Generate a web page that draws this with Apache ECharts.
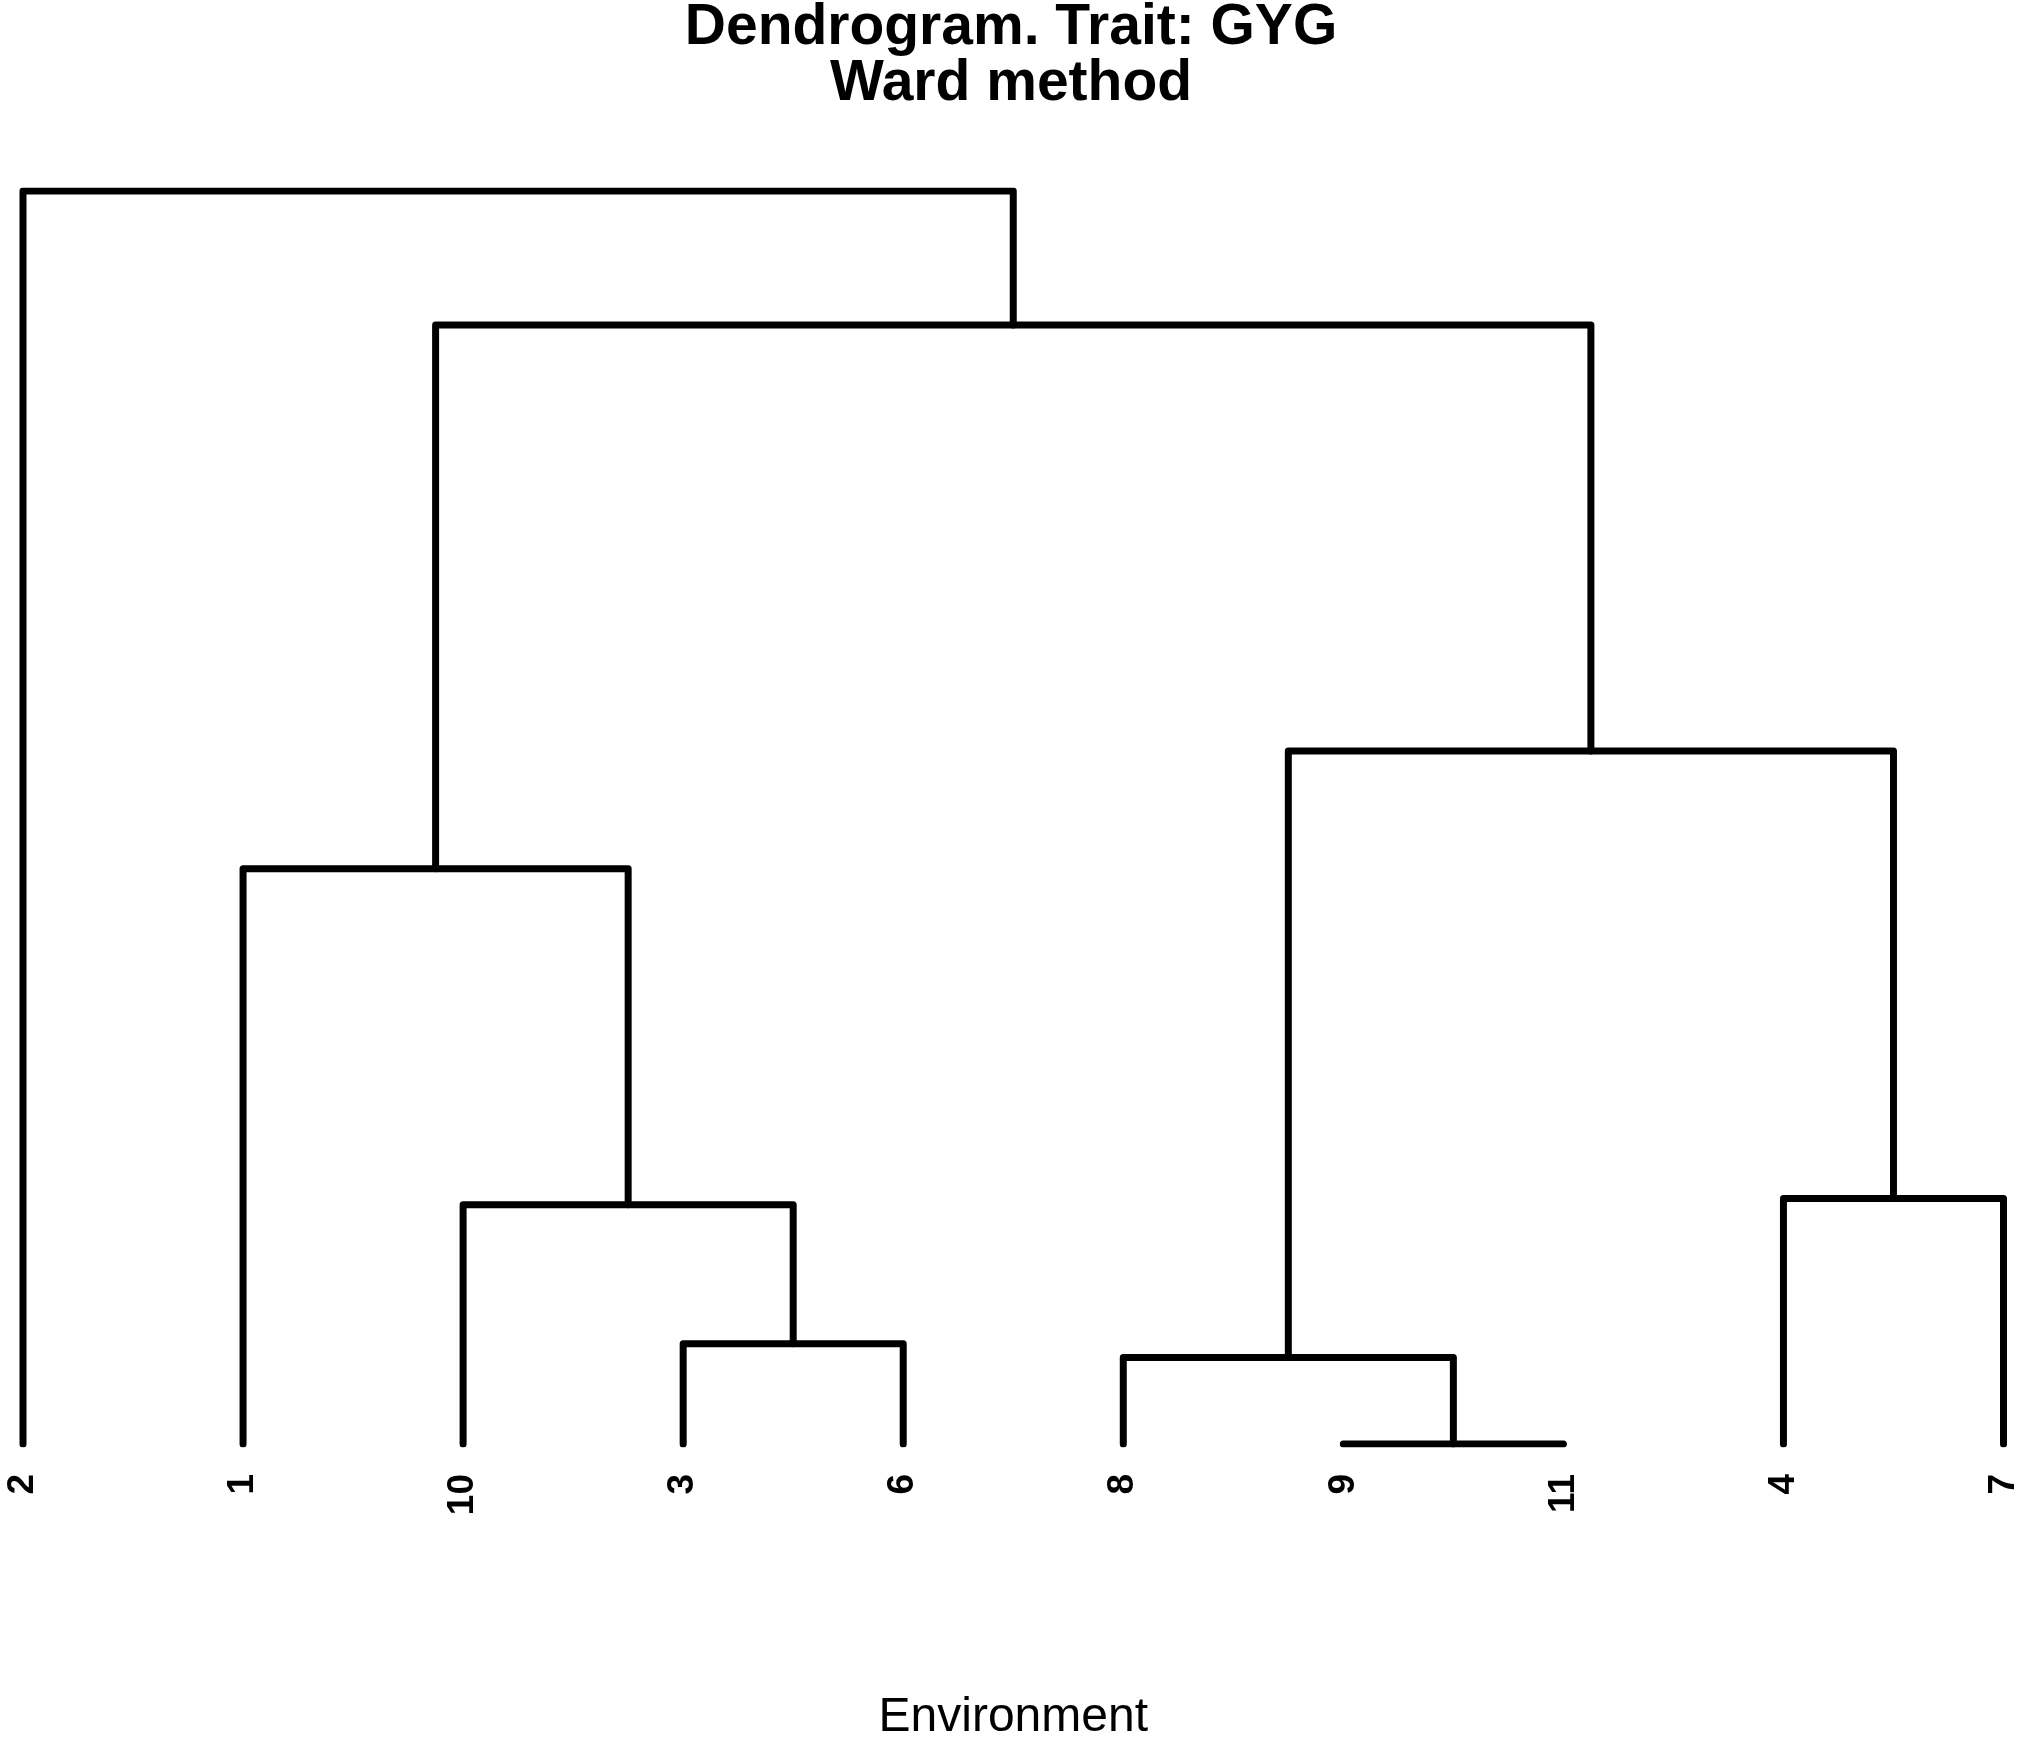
<!DOCTYPE html>
<html>
<head>
<meta charset="utf-8">
<script src="https://cdn.jsdelivr.net/npm/echarts@6/dist/echarts.min.js"></script>
<style>
html,body{margin:0;padding:0;background:#fff;}
#chart{width:2022px;height:1747px;}
</style>
</head>
<body>
<div id="chart"></div>
<script>
// Leaf order along the x axis (tick labels)
const leaves = ['2', '1', '10', '3', '6', '8', '9', '11', '4', '7'];
// Merge steps: strings are leaves, numbers refer to earlier merge steps (1-based)
const mergeA = ['9', '8', '3', '10', '4', '1', 2, 6, '2'];
const mergeB = ['11', 1, '6', 3, '7', 4, 5, 7, 8];
const mergeHeight = [0.0, 0.69, 0.80, 1.91, 1.96, 4.59, 5.53, 8.93, 10.0];

const titleText = 'Dendrogram. Trait: GYG';
const subtitleText = 'Ward method';
const xAxisName = 'Environment';

const mergeX = [];
function nodeX(n) {
  return typeof n === 'string' ? leaves.indexOf(n) : mergeX[n - 1];
}
function nodeH(n) {
  return typeof n === 'string' ? 0 : mergeHeight[n - 1];
}
const series = [];
for (let i = 0; i < mergeA.length; i++) {
  const xa = nodeX(mergeA[i]), xb = nodeX(mergeB[i]);
  const ha = nodeH(mergeA[i]), hb = nodeH(mergeB[i]);
  const h = mergeHeight[i];
  mergeX.push((xa + xb) / 2);
  series.push({
    type: 'line',
    symbol: 'none',
    silent: true,
    animation: false,
    lineStyle: { color: '#000', width: 7, cap: 'round', join: 'round' },
    data: [[xa, ha], [xa, h], [xb, h], [xb, hb]]
  });
}

const chart = echarts.init(document.getElementById('chart'));
chart.setOption({
  backgroundColor: '#fff',
  animation: false,
  title: {
    text: titleText + '\n' + subtitleText,
    left: 'center',
    top: -5,
    textStyle: {
      fontFamily: 'Liberation Sans',
      fontWeight: 'bold',
      fontSize: 57,
      lineHeight: 56,
      color: '#000'
    }
  },
  grid: { left: 23, right: 15, top: 191, bottom: 284, containLabel: false },
  xAxis: {
    type: 'value',
    min: 0,
    max: leaves.length - 1,
    interval: 1,
    splitLine: { show: false },
    axisLine: { show: false },
    axisTick: { show: false },
    axisLabel: {
      rotate: 90,
      margin: 30,
      color: '#000',
      fontFamily: 'Liberation Sans',
      fontWeight: 'bold',
      fontSize: 37,
      formatter: function (v) { return leaves[Math.round(v)]; }
    },
    name: xAxisName,
    nameLocation: 'middle',
    nameGap: 250,
    nameTextStyle: {
      fontFamily: 'Liberation Sans',
      fontSize: 48,
      color: '#000'
    }
  },
  yAxis: {
    type: 'value',
    min: 0,
    max: 10,
    show: false,
    splitLine: { show: false }
  },
  series: series
});
</script>
</body>
</html>
